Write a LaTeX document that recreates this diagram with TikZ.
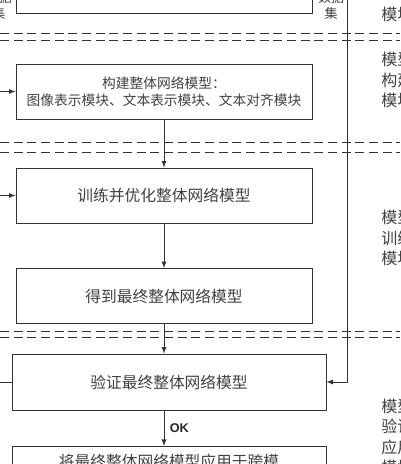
\documentclass[tikz,border=0pt]{standalone}
\usepackage{fontspec}
\setmainfont{Noto Sans CJK SC}
\newfontfamily\latinsans{Liberation Sans}
\tikzset{>=latex}
\usetikzlibrary{positioning}
\tikzset{
  procbox/.style={draw=black!80, line width=0.7pt, rectangle, minimum width=222pt, minimum height=41.25pt, inner sep=0pt, text=black!75, font=\fontsize{11.8}{14}\selectfont, align=center},
  widebox/.style={procbox, minimum width=235.5pt, minimum height=42pt},
  sidelabel/.style={anchor=west, align=left, inner sep=0pt, text=black!75, font=\fontsize{12}{15.4}\selectfont},
  datalabel/.style={align=center, inner sep=0pt, text=black!75, font=\fontsize{9.75}{12}\selectfont},
  link/.style={draw=black!80, line width=0.7pt}
}

\begin{document}
\begin{tikzpicture}[x=0.75pt,y=-0.75pt]
  \useasboundingbox (0,0) rectangle (400,464);
  \clip (0,0) rectangle (400,464);
  % separators
  \foreach \y in {33,40,142,152,331,337}
    \draw[black!80, line width=0.75pt, dash pattern=on 6.75pt off 3.5pt] (0,\y) -- (400,\y);
  % stages
  \node[procbox] (n0) at (164,-14) {};
  \node[procbox, font=\fontsize{10.3}{12.75}\selectfont] (n1) at (164,91.5) {构建整体网络模型：\\图像表示模块、文本表示模块、文本对齐模块};
  \node[procbox, below of=n1, node distance=78pt] (n2) {训练并优化整体网络模型};
  \node[procbox, below of=n2, node distance=75.4pt] (n3) {得到最终整体网络模型};
  \node[widebox] (n4) at (169,382) {验证最终整体网络模型};
  \node[widebox, anchor=north, minimum height=0pt, inner ysep=5.5pt] (n5) at (169,446) {将最终整体网络模型应用于跨模};
  \node[datalabel] (d0) at (-1,6) {数据\\集};
  \node[datalabel] (d1) at (331,6) {数据\\集};
  % module names
  \node[sidelabel] (m0) at (381,14) {模块};
  \node[sidelabel] (m1) at (381,80) {模型\\构建\\模块};
  \node[sidelabel] (m2) at (381,238) {模型\\训练\\模块};
  \node[sidelabel] (m3) at (381,437) {模型\\验证\\应用\\模块};
  \coordinate (aux1) at (347,-10);
  \coordinate[left of=n1, node distance=160pt] (aux2);
  % connectors
  \draw[link,->] (aux2) -- (n1.west);
  \draw[link,->] (n1) -- (n2);
  \draw[link,->] (n2) -- (n3);
  \draw[link,->] (n3.south) -- (n3.south |- n4.north);
  \draw[link,->] (n3.south |- n4.south) -- node[right, inner sep=4pt, text=black!85, font=\latinsans\bfseries\fontsize{9.5}{10}\selectfont]{OK} (n3.south |- n5.north);
  \draw[link,->] (aux1) |- (n4.east);
  \draw[link,->] (n4.west) -- ++(-20,0) |- (n2.west);
\end{tikzpicture}
\end{document}
